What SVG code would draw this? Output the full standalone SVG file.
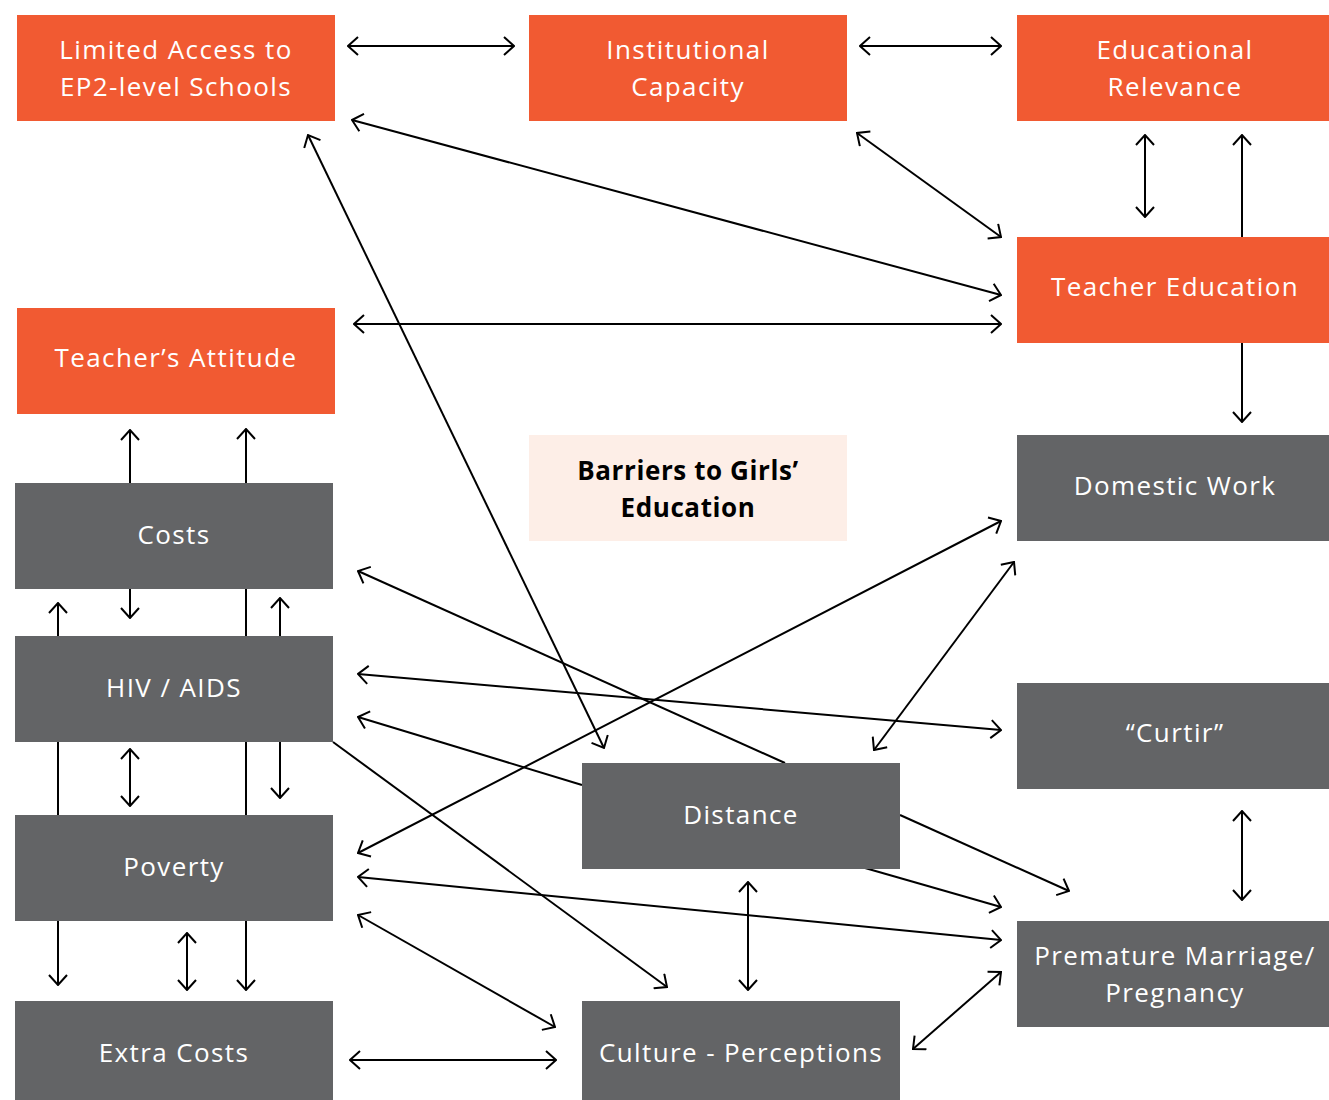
<svg xmlns="http://www.w3.org/2000/svg" width="1329" height="1100" viewBox="0 0 1329 1100">
<style>
.o{fill:#F15A32}
.g{fill:#636466}
.t{font-family:"Open Sans",Lato,"Liberation Sans",sans-serif;font-size:26px;letter-spacing:1.4px;fill:#fff;text-anchor:middle}
.b{font-family:"Open Sans",Lato,"Liberation Sans",sans-serif;font-size:26px;letter-spacing:0.6px;font-weight:bold;fill:#000;text-anchor:middle}
.c line{stroke:#000;stroke-width:2;fill:none}
.e{marker-end:url(#ah)}
.s{marker-start:url(#ah)}
</style>
<defs>
<marker id="ah" markerUnits="userSpaceOnUse" viewBox="0 0 12 20" markerWidth="12" markerHeight="20" refX="11" refY="10" orient="auto-start-reverse">
<path d="M1,1 L11,10 L1,19" fill="none" stroke="#000" stroke-width="2"/>
</marker>
</defs>
<rect width="1329" height="1100" fill="#fff"/>
<g id="connectors" class="c">
<line class="s e" x1="348" y1="46" x2="514" y2="46"/>
<line class="s e" x1="860" y1="46" x2="1001" y2="46"/>
<line class="s e" x1="352" y1="120" x2="1001" y2="295"/>
<line class="s e" x1="857" y1="133" x2="1001" y2="237"/>
<line class="s e" x1="1145" y1="135" x2="1145" y2="217"/>
<line class="e" x1="1242" y1="237" x2="1242" y2="135"/>
<line class="e" x1="1242" y1="343" x2="1242" y2="422"/>
<line class="s e" x1="354" y1="324" x2="1001" y2="324"/>
<line class="e" x1="130" y1="483" x2="130" y2="430"/>
<line class="s e" x1="246" y1="990" x2="246" y2="429"/>
<line class="s e" x1="58" y1="985" x2="58" y2="603"/>
<line class="e" x1="130" y1="589" x2="130" y2="618"/>
<line class="s e" x1="130" y1="749" x2="130" y2="806"/>
<line class="e" x1="280" y1="636" x2="280" y2="598"/>
<line class="e" x1="280" y1="742" x2="280" y2="798"/>
<line class="s e" x1="187" y1="933" x2="187" y2="990"/>
<line class="s e" x1="308" y1="135" x2="604" y2="748"/>
<line class="e" x1="785" y1="763" x2="358" y2="571"/>
<line class="s e" x1="358" y1="674" x2="1001" y2="730"/>
<line class="e" x1="582" y1="785" x2="358" y2="717"/>
<line class="e" x1="333" y1="742" x2="667" y2="987"/>
<line class="s e" x1="358" y1="853" x2="1001" y2="521"/>
<line class="s e" x1="874" y1="750" x2="1014" y2="562"/>
<line class="s e" x1="358" y1="877" x2="1001" y2="940"/>
<line class="s e" x1="358" y1="915" x2="555" y2="1027"/>
<line class="s e" x1="350" y1="1060" x2="556" y2="1060"/>
<line class="e" x1="900" y1="815" x2="1069" y2="891"/>
<line class="e" x1="865" y1="868" x2="1001" y2="907"/>
<line class="s e" x1="748" y1="882" x2="748" y2="990"/>
<line class="s e" x1="913" y1="1049" x2="1001" y2="972"/>
<line class="s e" x1="1242" y1="811" x2="1242" y2="900"/>
</g>
<g id="limited-access"><rect class="o" x="17" y="15" width="318" height="106"/><text class="t" x="176" y="59">Limited Access to</text><text class="t" x="176" y="96">EP2-level Schools</text></g>
<g id="institutional-capacity"><rect class="o" x="529" y="15" width="318" height="106"/><text class="t" x="688" y="59">Institutional</text><text class="t" x="688" y="96">Capacity</text></g>
<g id="educational-relevance"><rect class="o" x="1017" y="15" width="312" height="106"/><text class="t" x="1175" y="59">Educational</text><text class="t" x="1175" y="96">Relevance</text></g>
<g id="teacher-education"><rect class="o" x="1017" y="237" width="312" height="106"/><text class="t" x="1175" y="296">Teacher Education</text></g>
<g id="teachers-attitude"><rect class="o" x="17" y="308" width="318" height="106"/><text class="t" x="176" y="367">Teacher’s Attitude</text></g>
<g id="barriers"><rect x="529" y="435" width="318" height="106" fill="#FDEEE7"/><text class="b" x="688" y="480">Barriers to Girls’</text><text class="b" x="688" y="517">Education</text></g>
<g id="domestic-work"><rect class="g" x="1017" y="435" width="312" height="106"/><text class="t" x="1175" y="495">Domestic Work</text></g>
<g id="costs"><rect class="g" x="15" y="483" width="318" height="106"/><text class="t" x="174" y="544">Costs</text></g>
<g id="hiv-aids"><rect class="g" x="15" y="636" width="318" height="106"/><text class="t" x="174" y="697">HIV / AIDS</text></g>
<g id="curtir"><rect class="g" x="1017" y="683" width="312" height="106"/><text class="t" x="1175" y="742">“Curtir”</text></g>
<g id="distance"><rect class="g" x="582" y="763" width="318" height="106"/><text class="t" x="741" y="824">Distance</text></g>
<g id="poverty"><rect class="g" x="15" y="815" width="318" height="106"/><text class="t" x="174" y="876">Poverty</text></g>
<g id="premature-marriage"><rect class="g" x="1017" y="921" width="312" height="106"/><text class="t" x="1175" y="965">Premature Marriage/</text><text class="t" x="1175" y="1002">Pregnancy</text></g>
<g id="extra-costs"><rect class="g" x="15" y="1001" width="318" height="99"/><text class="t" x="174" y="1062">Extra Costs</text></g>
<g id="culture-perceptions"><rect class="g" x="582" y="1001" width="318" height="99"/><text class="t" x="741" y="1062">Culture - Perceptions</text></g>
</svg>
